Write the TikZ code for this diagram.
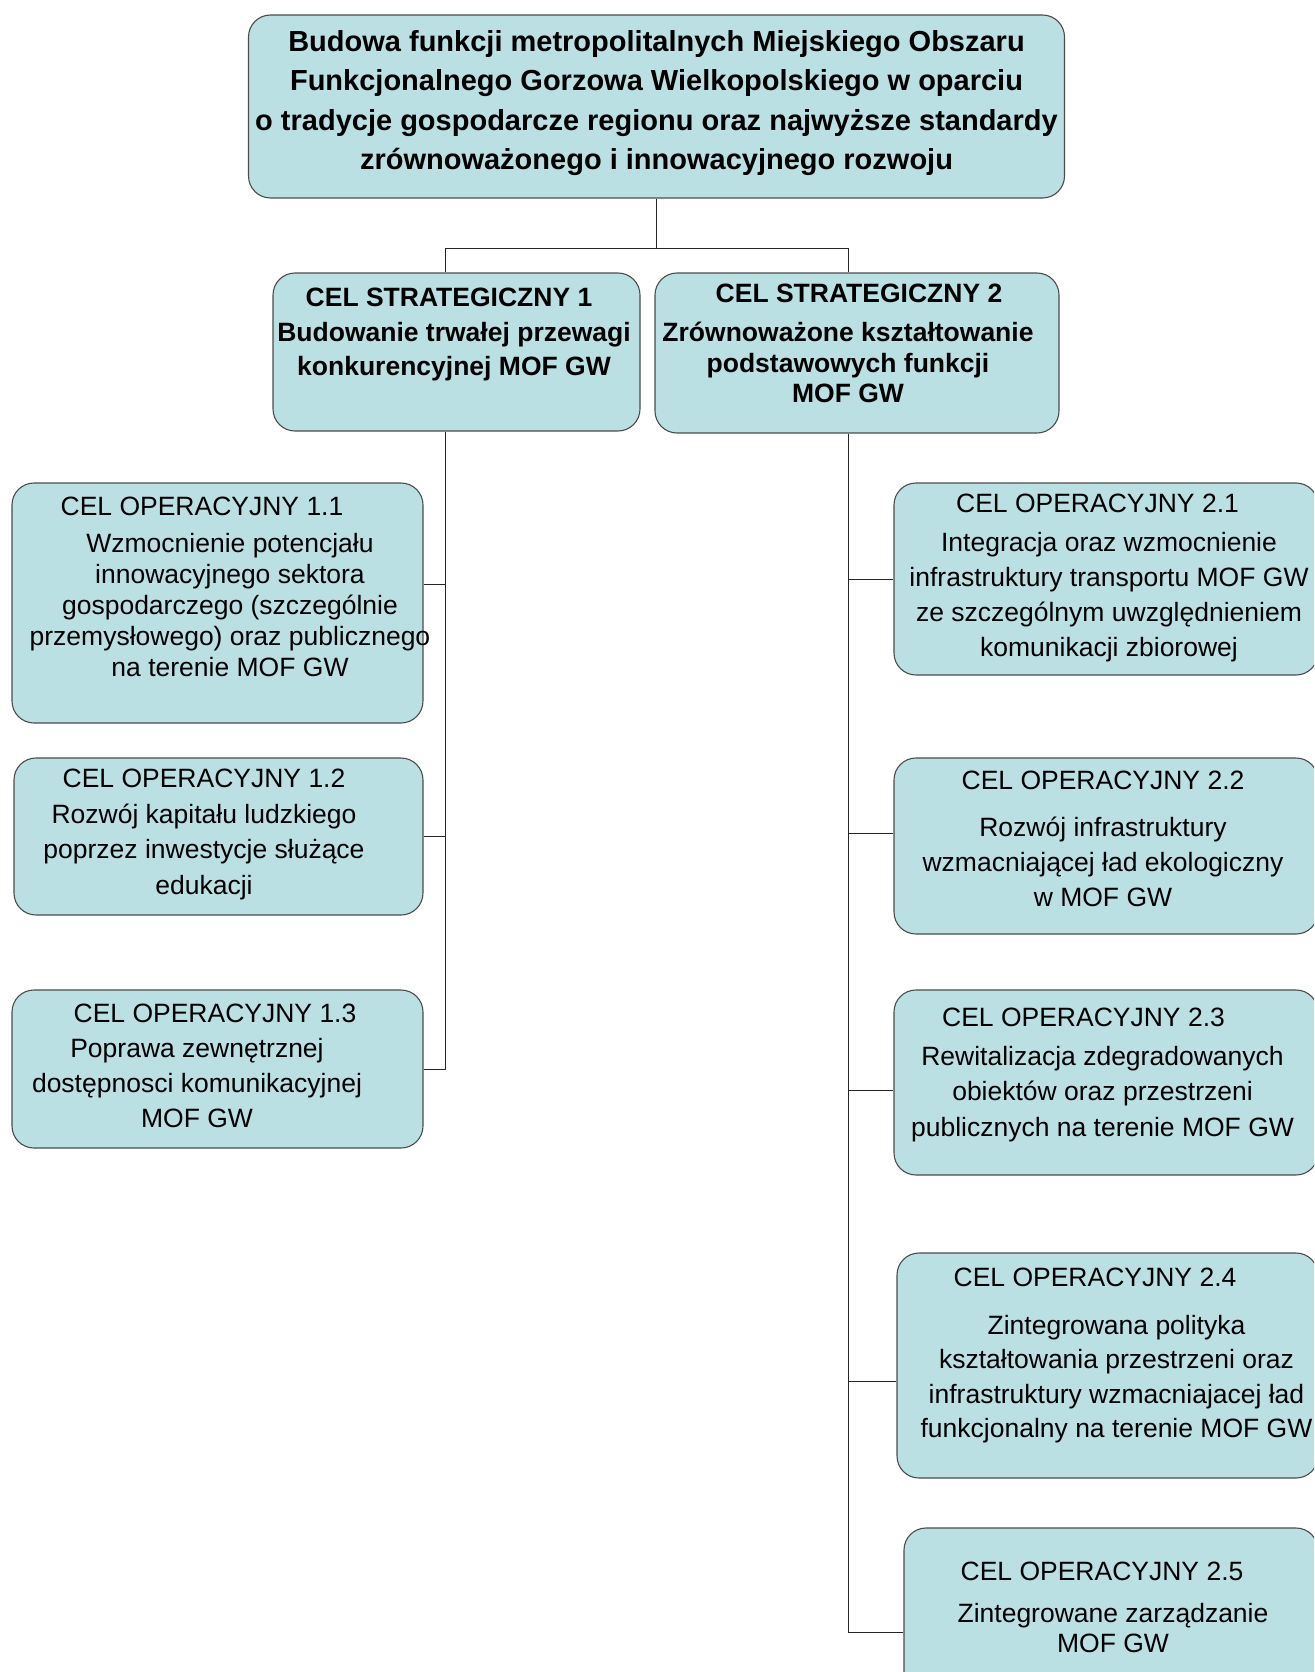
\documentclass[tikz,border=0pt]{standalone}
\usepackage{fontspec}
\setmainfont{Liberation Sans}
\usetikzlibrary{positioning}
\definecolor{goalfill}{HTML}{BBE0E3}

\begin{document}
\begin{tikzpicture}[x=1pt, y=-1pt,
	goalbox/.style={draw=black!70, line width=1.1pt, fill=goalfill, rounded corners=22pt, inner sep=0pt},
	goaltext/.style={inner sep=0pt, align=center, font=\bfseries\fontsize{26.5}{34.7}\selectfont},
	optext/.style={inner sep=0pt, align=center, font=\fontsize{26.5}{35}\selectfont},
	link/.style={draw=black!85, line width=1pt}]
	\useasboundingbox (0,0) rectangle (1314,1672);
	\clip (0,0) rectangle (1314,1672);
	% goal boxes
	\node [goalbox, minimum width=816pt, minimum height=183pt] (top) at (656.5, 106.5) {};
	\node [goalbox, minimum width=367pt, minimum height=158pt] (sc1) at (456.5, 352) {};
	\node [goalbox, minimum width=404pt, minimum height=160pt] (sc2) at (857, 353) {};
	\node [goalbox, minimum width=411pt, minimum height=240pt] (o11) at (217.5, 603) {};
	\node [goalbox, minimum width=409pt, minimum height=157pt] (o12) at (218.5, 836.5) {};
	\node [goalbox, minimum width=411pt, minimum height=158pt] (o13) at (217.5, 1069) {};
	\node [goalbox, minimum width=424pt, minimum height=192pt] (o21) at (1106, 579) {};
	\node [goalbox, minimum width=424pt, minimum height=176pt] (o22) at (1106, 846) {};
	\node [goalbox, minimum width=424pt, minimum height=185pt] (o23) at (1106, 1082.5) {};
	\node [goalbox, minimum width=421pt, minimum height=225pt] (o24) at (1107.5, 1365.5) {};
	\node [goalbox, minimum width=414pt, minimum height=172pt] (o25) at (1111, 1614) {};
	% texts
	\node [goaltext, font=\bfseries\fontsize{29}{39.5}\selectfont] (toptext) at (656.5, 103) {Budowa funkcji metropolitalnych Miejskiego Obszaru\\Funkcjonalnego Gorzowa Wielkopolskiego w oparciu\\o tradycje gospodarcze regionu oraz najwyższe standardy\\zrównoważonego i innowacyjnego rozwoju};
	\node [goaltext] (sc1text) at (454, 334.5) {CEL STRATEGICZNY 1\hspace*{10pt}\\Budowanie trwałej przewagi\\konkurencyjnej MOF GW};
	\node [goaltext, font=\bfseries\fontsize{26.5}{30.4}\selectfont] (sc2text) at (848, 343.5) {\hspace*{22pt}CEL STRATEGICZNY 2\\[9pt]Zrównoważone kształtowanie\\podstawowych funkcji\\MOF GW};
	\node [optext, font=\fontsize{26.5}{31}\selectfont] (o11text) at (230, 587) {CEL OPERACYJNY 1.1\hspace*{56pt}\\[6.3pt]Wzmocnienie potencjału\\innowacyjnego sektora\\gospodarczego (szczególnie\\przemysłowego) oraz publicznego\\na terenie MOF GW};
	\node [optext, font=\fontsize{26.5}{35.5}\selectfont] (o12text) at (204, 834.6) {CEL OPERACYJNY 1.2\\Rozwój kapitału ludzkiego\\poprzez inwestycje służące\\edukacji};
	\node [optext] (o13text) at (197, 1066) {\hspace*{36pt}CEL OPERACYJNY 1.3\\Poprawa zewnętrznej\\dostępnosci komunikacyjnej\\MOF GW};
	\node [optext] (o21text) at (1109, 578) {CEL OPERACYJNY 2.1\hspace*{23pt}\\[3.4pt]Integracja oraz wzmocnienie\\infrastruktury transportu MOF GW\\ze szczególnym uwzględnieniem\\komunikacji zbiorowej};
	\node [optext, font=\fontsize{26.5}{34.7}\selectfont] (o22text) at (1103, 839) {CEL OPERACYJNY 2.2\\[12.3pt]Rozwój infrastruktury\\wzmacniającej ład ekologiczny\\w MOF GW};
	\node [optext, font=\fontsize{26.5}{35.2}\selectfont] (o23text) at (1102.5, 1074.6) {CEL OPERACYJNY 2.3\hspace*{38pt}\\[4.3pt]Rewitalizacja zdegradowanych\\obiektów oraz przestrzeni\\publicznych na terenie MOF GW};
	\node [optext, font=\fontsize{26.5}{34.5}\selectfont] (o24text) at (1116.5, 1355.6) {CEL OPERACYJNY 2.4\hspace*{43pt}\\[13.5pt]Zintegrowana polityka\\kształtowania przestrzeni oraz\\infrastruktury wzmacniajacej ład\\funkcjonalny na terenie MOF GW};
	\node [optext, font=\fontsize{26.5}{29.9}\selectfont] (o25text) at (1113, 1607.4) {CEL OPERACYJNY 2.5\hspace*{22pt}\\[12.8pt]Zintegrowane zarządzanie\\MOF GW};
	% connectors
	\coordinate (t1) at (445, 248);
	\coordinate (t2) at (848, 248);
	\draw [link] (top.south) -- (top.south |- t1);
	\draw [link] (t1) -- (t2);
	\draw [link] (t1) -- (t1 |- sc1.north);
	\draw [link] (t2) -- (t2 |- sc2.north);
	\path ([yshift=19pt]o11.east) coordinate (b11);
	\draw [link] (t1 |- sc1.south) -- (t1 |- o13.east) -- (o13.east);
	\draw [link] (t1 |- o12.east) -- (o12.east);
	\draw [link] (b11 -| t1) -- (b11);
	\path ([yshift=13pt]o22.west) coordinate (b22);
	\path ([yshift=-7.5pt]o23.west) coordinate (b23);
	\path ([yshift=-15.5pt]o24.west) coordinate (b24);
	\path ([yshift=-18pt]o25.west) coordinate (b25);
	\draw [link] (t2 |- sc2.south) -- (b25 -| t2) -- (b25);
	\draw [link] (t2 |- o21.west) -- (o21.west);
	\draw [link] (b22 -| t2) -- (b22);
	\draw [link] (b23 -| t2) -- (b23);
	\draw [link] (b24 -| t2) -- (b24);
\end{tikzpicture}
\end{document}
